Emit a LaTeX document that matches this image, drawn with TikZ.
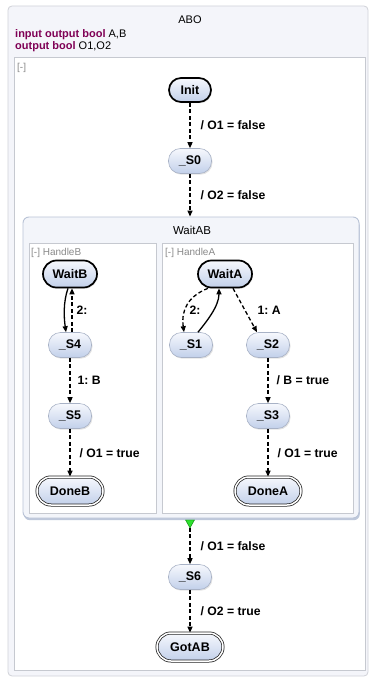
\documentclass[tikz,border=0pt]{standalone}
\usepackage{fontspec}
\setmainfont{Liberation Sans}
\usetikzlibrary{arrows.meta,shadows,calc}
\definecolor{kw}{HTML}{7F0055}
\definecolor{stTop}{HTML}{F6F8FD}
\definecolor{stBot}{HTML}{C2D0EA}
\definecolor{stLine}{HTML}{A8B2C6}
\definecolor{outerBg}{HTML}{F4F5FA}
\definecolor{outerLine}{HTML}{D0D2D8}
\definecolor{innerLine}{HTML}{C6C9D0}
\definecolor{compBg}{HTML}{F3F5FA}
\definecolor{compLine}{HTML}{B9C3D6}
\definecolor{compShadow}{HTML}{AEBBD2}
\definecolor{grayText}{HTML}{8A8A8A}
\definecolor{trigreen}{HTML}{2EE02E}
\frenchspacing
\begin{document}
\begin{tikzpicture}[x=1pt,y=-1pt,
  state/.style={rectangle, rounded corners=12pt, minimum width=43pt, minimum height=25pt, inner sep=1pt, top color=stTop, bottom color=stBot, draw=stLine, line width=0.6pt, font=\fontsize{12.5}{14}\selectfont\bfseries, drop shadow={opacity=0.22, shadow xshift=1pt, shadow yshift=-1.2pt}},
  initstate/.style={state, draw=black, line width=1.7pt, minimum width=54pt, minimum height=27pt, rounded corners=13.5pt},
  finalstate/.style={state, draw=black!85, line width=0.75pt, double=white, double distance=1.5pt, minimum width=66pt, minimum height=28pt, rounded corners=14pt},
  imm/.style={draw=black, line width=1.3pt, dash pattern=on 4pt off 2.5pt, -{Triangle[length=6pt,width=5pt]}},
  del/.style={draw=black, line width=1.3pt, -{Triangle[length=6pt,width=5pt]}},
  lbl/.style={font=\fontsize{12.2}{14}\selectfont\bfseries, anchor=west, inner sep=1pt},
  region/.style={rectangle, draw=innerLine, fill=white, line width=0.8pt, inner sep=0pt},
  graytxt/.style={font=\fontsize{10}{12}\selectfont, text=grayText, anchor=west, inner sep=0pt}
]
\useasboundingbox (0,0) rectangle (369,679);
% outer state ABO
\node[rectangle, rounded corners=4pt, draw=outerLine, fill=outerBg, line width=0.8pt, minimum width=360pt, minimum height=670pt, inner sep=0pt] (ABO) at (188,341) {};
\node[region, minimum width=351pt, minimum height=613pt] (ABObody) at (189.5,363.5) {};
\node[font=\fontsize{11}{13}\selectfont, inner sep=0pt] (ABOtitle) at (190,20) {ABO};
\node[anchor=west, inner sep=0pt, font=\fontsize{11}{13}\selectfont] (decl1) at (15,35) {\textcolor{kw}{\bfseries input output bool} A,B};
\node[anchor=west, inner sep=0pt, font=\fontsize{11}{13}\selectfont] (decl2) at (15,47) {\textcolor{kw}{\bfseries output bool} O1,O2};
\node[graytxt] (col0) at (17,68) {[-]};
% WaitAB
\node[rectangle, rounded corners=6pt, draw=compLine, fill=compBg, line width=0.9pt, minimum width=336pt, minimum height=301pt, inner sep=0pt, drop shadow={shadow xshift=0.8pt, shadow yshift=-2.2pt, opacity=0.8, fill=compShadow}] (WaitAB) at (191,367.5) {};
\node[font=\fontsize{11.5}{13}\selectfont, inner sep=0pt] (WaitABtitle) at (192,230) {WaitAB};
\node[region, minimum width=127pt, minimum height=270pt] (HandleB) at (92.5,378) {};
\node[region, minimum width=191pt, minimum height=270pt] (HandleA) at (257.5,378) {};
\node[graytxt] (HBlabel) at (31,253) {[-] HandleB};
\node[graytxt] (HAlabel) at (165,253) {[-] HandleA};
% states
\node[initstate, minimum width=42pt, minimum height=24pt, rounded corners=12pt] (Init) at (190,90) {Init};
\node[state] (S0) at (190,161) {\_S0};
\node[initstate] (WaitB) at (70,274) {WaitB};
\node[state] (S4) at (70,345) {\_S4};
\node[state] (S5) at (70,416) {\_S5};
\node[finalstate] (DoneB) at (70,491) {DoneB};
\node[initstate] (WaitA) at (225,274) {WaitA};
\node[state] (S1) at (191,345) {\_S1};
\node[state] (S2) at (268,345) {\_S2};
\node[state] (S3) at (268,416) {\_S3};
\node[finalstate] (DoneA) at (268,491) {DoneA};
\node[state] (S6) at (190,577) {\_S6};
\node[finalstate] (GotAB) at (190,647) {GotAB};
% top-level transitions
\draw[imm] (Init) -- node[lbl, xshift=9pt]{/ O1 = false} (S0);
\draw[imm] (S0) -- node[lbl, xshift=9pt]{/ O2 = false} (S0 |- WaitAB.north);
\coordinate (triTop) at (WaitAB.south -| S0);
\coordinate (triTip) at ($(triTop)+(0,9.5)$);
\filldraw[fill=trigreen, draw=green!50!black, line width=0.4pt] ($(triTop)+(-4.5,1.5)$) -- ($(triTop)+(4.5,1.5)$) -- (triTip) -- cycle;
\draw[imm] (triTip) -- node[lbl, xshift=9pt]{/ O1 = false} (S6);
\draw[imm] (S6) -- node[lbl, xshift=9pt]{/ O2 = true} (GotAB);
% HandleB
\draw[del] ([xshift=-2pt]WaitB.south) .. controls ($(WaitB.south)+(-7,14)$) and ($(S4.north)+(-6,-14)$) .. ([xshift=-4pt]S4.north);
\draw[imm] ([xshift=2pt]S4.north) -- node[lbl, xshift=3pt]{2:} ([xshift=2pt]WaitB.south);
\draw[imm] (S4) -- node[lbl, xshift=6pt]{1: B} (S5);
\draw[imm] (S5) -- node[lbl, xshift=8pt]{/ O1 = true} (DoneB);
% HandleA
\draw[imm] (WaitA.220) .. controls ($(WaitA.220)+(-20,8)$) and ($(S1.north)+(-10,-22)$) .. node[lbl, pos=0.62, xshift=3pt]{2:} ([xshift=-7pt]S1.north);
\draw[del] ([xshift=7pt]S1.north) .. controls ($(S1.north)+(15,-10)$) and ($(WaitA.south)+(-6,18)$) .. ([xshift=-6pt]WaitA.south);
\draw[imm] ([xshift=8pt]WaitA.south) -- node[lbl, xshift=11pt]{1: A} ([xshift=-11pt]S2.north);
\draw[imm] (S2) -- node[lbl, xshift=7pt]{/ B = true} (S3);
\draw[imm] (S3) -- node[lbl, xshift=8pt]{/ O1 = true} (DoneA);
\end{tikzpicture}
\end{document}
